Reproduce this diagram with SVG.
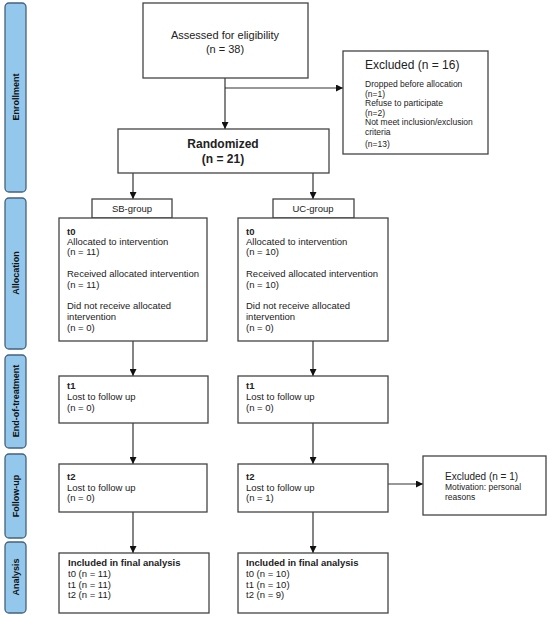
<svg xmlns="http://www.w3.org/2000/svg" width="550" height="617" viewBox="0 0 550 617">
<defs>
<marker id="ah" viewBox="0 0 10 10" refX="10" refY="5" markerWidth="7" markerHeight="7" markerUnits="userSpaceOnUse" orient="auto">
<path d="M0,0 L10,5 L0,10 z" fill="#111"/>
</marker>
<style>
.box{fill:#fff;stroke:#444;stroke-width:1.3}
.side{fill:#93c7eb;stroke:#44637d;stroke-width:1.3}
.st{font-family:"Liberation Sans",Arial,sans-serif;font-size:9px;font-weight:bold;fill:#111}
.t{font-family:"Liberation Sans",Arial,sans-serif;font-size:9.5px;fill:#222}
.b{font-weight:bold}
.s{font-size:8.5px}
.m{font-size:11px}
.c{text-anchor:middle}
.con{stroke:#333;stroke-width:1.2;fill:none}
</style>
</defs>

<g id="side-enrollment"><rect class="side" x="5" y="3" width="21" height="189" rx="4"/><text class="st" transform="translate(19,97) rotate(-90)" text-anchor="middle">Enrollment</text></g>
<g id="side-allocation"><rect class="side" x="5" y="198" width="21" height="151" rx="4"/><text class="st" transform="translate(19,273) rotate(-90)" text-anchor="middle">Allocation</text></g>
<g id="side-eot"><rect class="side" x="5" y="355" width="21" height="93" rx="4"/><text class="st" transform="translate(19,401) rotate(-90)" text-anchor="middle">End-of-treatment</text></g>
<g id="side-followup"><rect class="side" x="5" y="454" width="21" height="84" rx="4"/><text class="st" transform="translate(19,496) rotate(-90)" text-anchor="middle">Follow-up</text></g>
<g id="side-analysis"><rect class="side" x="5" y="542" width="21" height="71" rx="4"/><text class="st" transform="translate(19,577) rotate(-90)" text-anchor="middle">Analysis</text></g>

<g id="connectors">
<line class="con" x1="225" y1="78" x2="225" y2="129" marker-end="url(#ah)"/>
<line class="con" x1="225" y1="88" x2="343" y2="88" marker-end="url(#ah)"/>
<line class="con" x1="133" y1="173" x2="133" y2="199" marker-end="url(#ah)"/>
<line class="con" x1="313" y1="173" x2="313" y2="199" marker-end="url(#ah)"/>
<line class="con" x1="133" y1="341" x2="133" y2="376" marker-end="url(#ah)"/>
<line class="con" x1="313" y1="341" x2="313" y2="376" marker-end="url(#ah)"/>
<line class="con" x1="133" y1="423" x2="133" y2="464" marker-end="url(#ah)"/>
<line class="con" x1="313" y1="423" x2="313" y2="464" marker-end="url(#ah)"/>
<line class="con" x1="388" y1="484" x2="423" y2="484" marker-end="url(#ah)"/>
<line class="con" x1="133" y1="512" x2="133" y2="553" marker-end="url(#ah)"/>
<line class="con" x1="313" y1="512" x2="313" y2="553" marker-end="url(#ah)"/>
</g>

<g id="assessed"><rect class="box" x="143" y="3" width="165" height="75"/>
<text class="t m c" x="225" y="39">Assessed for eligibility</text>
<text class="t m c" x="225" y="53">(n = 38)</text></g>

<g id="excluded1"><rect class="box" x="343" y="51" width="145" height="103"/>
<text class="t" x="365" y="69" style="font-size:12px">Excluded (n = 16)</text>
<text class="t s" x="365" y="87">Dropped before allocation</text>
<text class="t s" x="365" y="97">(n=1)</text>
<text class="t s" x="365" y="106">Refuse to participate</text>
<text class="t s" x="365" y="116">(n=2)</text>
<text class="t s" x="365" y="125">Not  meet inclusion/exclusion</text>
<text class="t s" x="365" y="135">criteria</text>
<text class="t s" x="365" y="147">(n=13)</text></g>

<g id="randomized"><rect class="box" x="118" y="129" width="211" height="44"/>
<text class="t b c" x="223" y="148" style="font-size:12px">Randomized</text>
<text class="t b c" x="223" y="163" style="font-size:12px">(n = 21)</text></g>

<g id="sb-group"><rect class="box" x="92" y="199" width="80" height="19"/><text class="t c" x="132" y="212">SB-group</text></g>
<g id="uc-group"><rect class="box" x="273" y="199" width="81" height="19"/><text class="t c" x="313" y="212">UC-group</text></g>

<g id="sb-t0"><rect class="box" x="59" y="218" width="148" height="123"/>
<text class="t b" x="67" y="235">t0</text>
<text class="t" x="67" y="245">Allocated to intervention</text>
<text class="t" x="67" y="255"> (n = 11)</text>
<text class="t" x="67" y="277">Received allocated intervention</text>
<text class="t" x="67" y="288"> (n = 11)</text>
<text class="t" x="67" y="309">Did not receive allocated</text>
<text class="t" x="67" y="320">intervention</text>
<text class="t" x="67" y="331"> (n = 0)</text></g>

<g id="uc-t0"><rect class="box" x="238" y="218" width="150" height="123"/>
<text class="t b" x="246" y="235">t0</text>
<text class="t" x="246" y="245">Allocated to intervention</text>
<text class="t" x="246" y="255"> (n = 10)</text>
<text class="t" x="246" y="277">Received allocated intervention</text>
<text class="t" x="246" y="288"> (n = 10)</text>
<text class="t" x="246" y="309">Did not receive allocated</text>
<text class="t" x="246" y="320">intervention</text>
<text class="t" x="246" y="331"> (n = 0)</text></g>

<g id="sb-t1"><rect class="box" x="59" y="376" width="149" height="47"/>
<text class="t b" x="67" y="389">t1</text>
<text class="t" x="67" y="400">Lost to follow up</text>
<text class="t" x="67" y="411"> (n = 0)</text></g>

<g id="uc-t1"><rect class="box" x="238" y="376" width="150" height="47"/>
<text class="t b" x="246" y="389">t1</text>
<text class="t" x="246" y="400">Lost to follow up</text>
<text class="t" x="246" y="411"> (n = 0)</text></g>

<g id="sb-t2"><rect class="box" x="59" y="464" width="148" height="48"/>
<text class="t b" x="67" y="480">t2</text>
<text class="t" x="67" y="491">Lost to follow up</text>
<text class="t" x="67" y="501">(n = 0)</text></g>

<g id="uc-t2"><rect class="box" x="238" y="464" width="150" height="48"/>
<text class="t b" x="246" y="480">t2</text>
<text class="t" x="246" y="491">Lost to follow up</text>
<text class="t" x="246" y="501"> (n = 1)</text></g>

<g id="excluded2"><rect class="box" x="423" y="456" width="123" height="59"/>
<text class="t" x="445" y="480" style="font-size:10px">Excluded (n = 1)</text>
<text class="t s" x="445" y="490">Motivation: personal</text>
<text class="t s" x="445" y="500">reasons</text></g>

<g id="sb-analysis"><rect class="box" x="59" y="553" width="150" height="60"/>
<text class="t b" x="68" y="566">Included  in  final analysis</text>
<text class="t" x="68" y="577">t0 (n = 11)</text>
<text class="t" x="68" y="588">t1 (n = 11)</text>
<text class="t" x="68" y="598">t2 (n = 11)</text></g>

<g id="uc-analysis"><rect class="box" x="238" y="553" width="150" height="60"/>
<text class="t b" x="246" y="566">Included  in  final analysis</text>
<text class="t" x="246" y="577">t0 (n = 10)</text>
<text class="t" x="246" y="588">t1 (n = 10)</text>
<text class="t" x="246" y="598">t2 (n = 9)</text></g>
</svg>
